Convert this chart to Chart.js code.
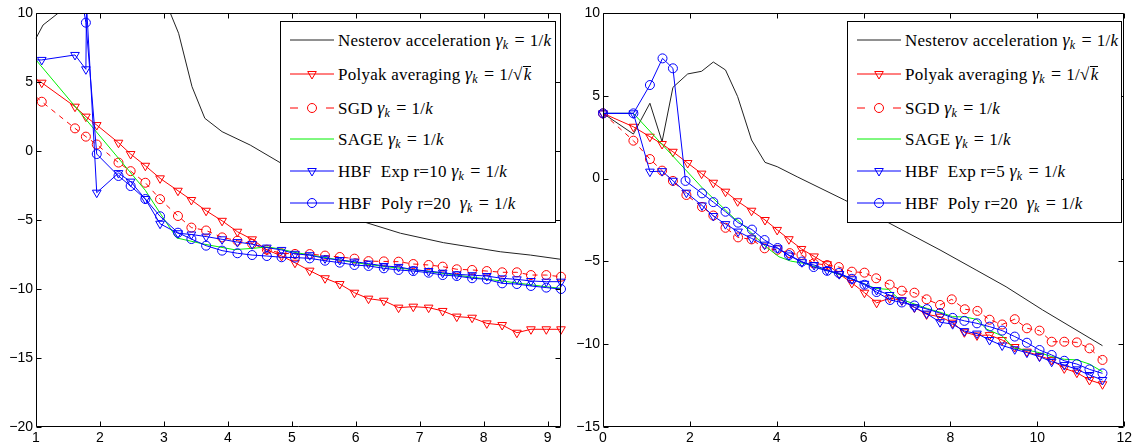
<!DOCTYPE html>
<html>
<head>
<meta charset="utf-8">
<script src="https://cdn.jsdelivr.net/npm/chart.js@4.4.1/dist/chart.umd.min.js"></script>
<style>
  html, body { margin: 0; padding: 0; background: #fff; overflow: hidden; }
  #wrap { position: relative; width: 1135px; height: 445px; }
  .pane { position: absolute; top: 0; }
  .legend { position: absolute; top: 21px; height: 200px; border: 1px solid #000; background: #fff; overflow: hidden;
            font-family: 'Liberation Serif', 'Times New Roman', serif; font-size: 17px; color: #000; }
  .row { position: absolute; left: 0; right: 0; height: 20px; }
  .row svg { position: absolute; left: 8px; top: 3px; }
  .row span.t { position: absolute; left: 57px; top: 0; line-height: 20px; white-space: nowrap; letter-spacing: 0.25px; }
  .m i { font-style: italic; }
  .g { font-size: 18px; }
  .m sub { font-size: 12px; font-style: italic; vertical-align: -3px; line-height: 0; }
  .eq { margin: 0 5px 0 6px; font-size: 18px; }
  .ov { border-top: 1px solid #000; padding-left: 1px; line-height: 16px; display: inline-block; }
</style>
</head>
<body>
<div id="wrap">
  <div class="pane" style="left:0"><canvas id="left" width="570" height="445"></canvas></div>
  <div class="pane" style="left:570px"><canvas id="right" width="565" height="445"></canvas></div>
  <div class="legend" id="legL" style="left:280px; width:274px"></div>
  <div class="legend" id="legR" style="left:847px; width:273px"></div>
</div>
<script>
// ---- axes ----
const xTicksL = [1, 2, 3, 4, 5, 6, 7, 8, 9];
const yTicksL = [-20, -15, -10, -5, 0, 5, 10];
const xTicksR = [0, 2, 4, 6, 8, 10, 12];
const yTicksR = [-15, -10, -5, 0, 5, 10];

// ---- left panel series, [x, y] ----
const nesterovL = [[1, 8.17], [1.11, 9.13], [1.35, 10.0], [1.6, 11.0], [2.2, 12.5], [2.8, 11.5], [3.1, 10.0],
  [3.23, 8.53], [3.44, 4.66], [3.64, 2.37], [3.91, 1.40], [4.35, 0.43], [4.82, -0.85], [6.17, -5.2],
  [6.70, -5.96], [7.37, -6.64], [8.26, -7.3], [8.73, -7.54], [9.21, -7.85]];
const polyakL = [[1, 5.22], [1.09, 4.95], [1.61, 3.21], [1.78, 2.49], [1.95, 1.88], [2.29, 0.60], [2.48, -0.22],
  [2.71, -1.07], [2.94, -1.98], [3.22, -2.88], [3.43, -3.55], [3.66, -4.33], [3.91, -5.06], [4.15, -5.85],
  [4.38, -6.40], [4.61, -7.17], [4.84, -7.6], [5.05, -8.1], [5.28, -8.67], [5.52, -9.22], [5.75, -9.64],
  [5.98, -10.27], [6.20, -10.70], [6.44, -10.85], [6.67, -11.35], [6.90, -11.28], [7.14, -11.35], [7.36, -11.59],
  [7.58, -12.0], [7.82, -12.08], [8.05, -12.49], [8.29, -12.61], [8.52, -13.17], [8.74, -12.92], [8.98, -12.92],
  [9.21, -12.92]];
const sgdL = [[1, 3.93], [1.09, 3.57], [1.61, 1.64], [1.78, 1.04], [1.95, 0.47], [2.29, -0.84], [2.48, -1.46],
  [2.71, -2.30], [2.94, -3.49], [3.22, -4.71], [3.43, -5.55], [3.66, -5.76], [3.91, -6.26], [4.15, -6.5],
  [4.38, -6.72], [4.61, -7.15], [4.84, -7.41], [5.05, -7.46], [5.28, -7.47], [5.52, -7.58], [5.75, -7.68],
  [5.98, -7.8], [6.20, -7.98], [6.44, -8.0], [6.67, -8.02], [6.90, -8.19], [7.14, -8.26], [7.36, -8.38],
  [7.58, -8.57], [7.82, -8.62], [8.05, -8.7], [8.29, -8.79], [8.52, -8.79], [8.74, -8.99], [8.98, -8.99],
  [9.21, -9.11]];
const sageL = [[1, 6.6], [1.92, 1.52], [2.71, -2.85], [2.94, -4.5], [3.2, -6.3], [3.64, -6.76], [4.1, -7.15],
  [4.4, -7.05], [4.61, -6.95], [4.82, -7.1], [5.05, -7.35], [5.5, -7.7], [6.0, -8.1], [6.5, -8.4], [7.0, -8.65],
  [7.5, -8.95], [8.0, -9.25], [8.5, -9.55], [9.0, -9.85], [9.21, -9.95]];
const hbfExpL = [[1, 6.6], [1.09, 6.6], [1.61, 6.96], [1.78, 5.92], [1.79, 10.6], [1.95, -3.02], [2.29, -1.6],
  [2.48, -2.22], [2.71, -3.48], [2.94, -5.27], [3.22, -5.96], [3.43, -6.05], [3.66, -6.2], [3.91, -6.4],
  [4.15, -6.6], [4.38, -6.75], [4.61, -7.0], [4.84, -7.17], [5.05, -7.45], [5.28, -7.55], [5.52, -7.78],
  [5.75, -7.9], [5.98, -8.02], [6.20, -8.16], [6.44, -8.33], [6.67, -8.4], [6.90, -8.6], [7.14, -8.7],
  [7.36, -8.82], [7.58, -8.94], [7.82, -9.0], [8.05, -9.06], [8.29, -9.23], [8.52, -9.3], [8.74, -9.42],
  [8.98, -9.47], [9.21, -9.47]];
const hbfPolyL = [[1, 14], [1.61, 14], [1.78, 9.3], [1.95, -0.22], [2.29, -1.81], [2.48, -2.54], [2.71, -3.48],
  [2.94, -4.73], [3.22, -5.92], [3.43, -6.38], [3.66, -6.86], [3.91, -7.22], [4.15, -7.41], [4.38, -7.54],
  [4.61, -7.61], [4.84, -7.70], [5.05, -7.72], [5.28, -7.78], [5.52, -7.95], [5.75, -8.09], [5.98, -8.26],
  [6.20, -8.33], [6.44, -8.5], [6.67, -8.62], [6.90, -8.70], [7.14, -8.82], [7.36, -8.99], [7.58, -9.06],
  [7.82, -9.22], [8.05, -9.30], [8.29, -9.59], [8.52, -9.64], [8.74, -9.78], [8.98, -9.90], [9.21, -10.0]];

// ---- right panel series, [x, y] ----
const nesterovR = [[0, 3.94], [0.70, 2.69], [1.08, 4.55], [1.36, 2.23], [1.61, 5.51], [1.95, 6.32], [2.27, 6.48],
  [2.54, 7.04], [2.82, 6.56], [3.10, 4.95], [3.42, 2.33], [3.73, 0.98], [4.01, 0.72], [4.47, 0.11], [5.56, -1.29],
  [6.57, -2.66], [7.76, -4.31], [8.59, -5.52], [9.28, -6.53], [10.12, -7.93], [11.5, -10.09]];
const polyakR = [[0, 3.94], [0.70, 3.13], [1.08, 2.53], [1.36, 2.09], [1.61, 1.62], [1.95, 0.94], [2.27, 0.30],
  [2.54, -0.25], [2.82, -0.79], [3.10, -1.37], [3.42, -1.94], [3.73, -2.5], [4.01, -3.1], [4.28, -3.66],
  [4.57, -4.25], [4.86, -4.7], [5.16, -5.17], [5.44, -5.76], [5.73, -6.3], [6.02, -6.89], [6.30, -7.5],
  [6.60, -7.22], [6.88, -7.35], [7.17, -7.78], [7.45, -8.2], [7.76, -8.34], [8.05, -8.7], [8.32, -9.28],
  [8.61, -9.47], [8.90, -9.45], [9.19, -9.75], [9.48, -10.17], [9.76, -10.45], [10.05, -10.71], [10.33, -10.95],
  [10.62, -11.46], [10.91, -11.72], [11.2, -12.16], [11.5, -12.42]];
const sgdR = [[0, 3.94], [0.70, 2.29], [1.08, 1.18], [1.36, 0.48], [1.61, -0.14], [1.92, -0.99], [2.28, -1.71],
  [2.54, -2.23], [2.82, -2.97], [3.11, -3.55], [3.42, -3.67], [3.72, -4.21], [4.01, -4.3], [4.30, -4.5],
  [4.57, -4.61], [4.85, -5.12], [5.16, -5.22], [5.43, -5.34], [5.73, -5.62], [6.02, -5.68], [6.29, -6.02],
  [6.60, -6.4], [6.88, -6.77], [7.17, -6.89], [7.45, -7.29], [7.76, -7.63], [8.03, -7.29], [8.33, -7.89],
  [8.62, -7.99], [8.90, -8.52], [9.19, -8.81], [9.48, -8.49], [9.76, -9.04], [10.05, -9.18], [10.33, -9.85],
  [10.62, -9.85], [10.91, -9.89], [11.2, -10.25], [11.5, -10.95]];
const sageR = [[0, 3.94], [0.70, 3.94], [2.30, -0.6], [3.02, -2.4], [3.10, -2.5], [3.75, -4.11], [4.05, -4.72],
  [4.32, -4.98], [4.63, -5.12], [5.16, -5.55], [5.73, -6.05], [6.27, -6.63], [6.57, -6.69], [6.80, -7.23],
  [7.17, -7.57], [7.47, -7.85], [7.8, -8.1], [8.05, -8.34], [8.33, -8.35], [8.6, -8.5], [8.84, -9.1],
  [9.19, -9.5], [9.47, -10.25], [9.76, -10.35], [10.05, -10.51], [10.33, -10.75], [10.62, -10.91],
  [10.91, -10.95], [11.2, -11.2], [11.5, -11.66]];
const hbfExpR = [[0, 3.94], [0.70, 3.94], [1.08, 0.42], [1.36, 0.45], [1.61, -0.13], [1.92, -0.85], [2.28, -1.62],
  [2.54, -2.26], [2.82, -2.75], [3.11, -3.2], [3.42, -3.61], [3.72, -3.99], [4.02, -4.21], [4.28, -4.64],
  [4.58, -5.05], [4.86, -5.22], [5.16, -5.52], [5.44, -5.77], [5.73, -6.08], [6.02, -6.35], [6.30, -6.73],
  [6.60, -7.03], [6.88, -7.35], [7.17, -7.77], [7.45, -8.15], [7.76, -8.67], [8.05, -8.79], [8.32, -9.21],
  [8.61, -9.36], [8.90, -9.75], [9.19, -10.08], [9.48, -10.31], [9.76, -10.51], [10.05, -10.75], [10.33, -11.06],
  [10.62, -11.26], [10.91, -11.52], [11.2, -11.86], [11.5, -12.16]];
const hbfPolyR = [[0, 3.94], [0.70, 3.94], [1.08, 5.65], [1.37, 7.26], [1.61, 6.66], [1.90, -0.14], [2.28, -0.89],
  [2.54, -1.42], [2.82, -2.0], [3.11, -2.66], [3.43, -3.08], [3.72, -3.71], [4.02, -4.19], [4.28, -4.62],
  [4.58, -5.01], [4.85, -5.34], [5.16, -5.57], [5.43, -5.7], [5.73, -6.05], [6.02, -6.41], [6.30, -6.85],
  [6.61, -7.33], [6.88, -7.48], [7.17, -7.66], [7.46, -7.88], [7.76, -8.12], [8.05, -8.41], [8.32, -8.59],
  [8.61, -8.74], [8.90, -8.94], [9.19, -9.18], [9.48, -9.54], [9.76, -9.91], [10.05, -10.35], [10.33, -10.65],
  [10.62, -11.0], [10.91, -11.2], [11.2, -11.52], [11.5, -11.76]];

const labelsL = ['Nesterov acceleration', 'Polyak averaging', 'SGD', 'SAGE', 'HBF&nbsp; Exp r=10', 'HBF&nbsp; Poly r=20&nbsp;'];
const labelsR = ['Nesterov acceleration', 'Polyak averaging', 'SGD', 'SAGE', 'HBF&nbsp; Exp r=5', 'HBF&nbsp; Poly r=20&nbsp;'];

const RED = '#ff0000', BLUE = '#0000ff', GREEN = '#00f000', BLACK = '#222222';
const styles = [
  { color: BLACK, marker: null, dash: [] },
  { color: RED, marker: 'tri', dash: [] },
  { color: RED, marker: 'circ', dash: [5, 5] },
  { color: GREEN, marker: null, dash: [] },
  { color: BLUE, marker: 'tri', dash: [] },
  { color: BLUE, marker: 'circ', dash: [] }
];

function makeDataset(points, i, startX) {
  const s = styles[i];
  return {
    data: points.map(([x, y]) => ({ x, y })),
    borderColor: s.color,
    borderWidth: 1,
    borderDash: s.dash,
    backgroundColor: 'rgba(0,0,0,0)',
    pointBackgroundColor: 'rgba(0,0,0,0)',
    pointBorderColor: s.color,
    pointBorderWidth: 1,
    pointStyle: s.marker === 'tri' ? 'triangle' : 'circle',
    pointRotation: s.marker === 'tri' ? 180 : 0,
    pointRadius: s.marker ? (c => (c.raw && c.raw.x <= startX) ? 0 : (s.marker === 'tri' ? 5 : 4.5)) : 0,
    pointHoverRadius: 0,
    tension: 0,
    order: 6 - i,
    clip: { left: 6, right: 6, top: 0, bottom: 6 }
  };
}

// matlab style box with inward ticks
const matlabAxes = {
  id: 'matlabAxes',
  afterDatasetsDraw(chart) {
    const { ctx, chartArea: a, scales } = chart;
    const L = Math.round(a.left) + 0.5, R = Math.round(a.right) - 0.5;
    const T = Math.round(a.top) + 0.5, B = Math.round(a.bottom) - 0.5;
    ctx.save();
    ctx.strokeStyle = '#000';
    ctx.lineWidth = 1;
    ctx.beginPath();
    ctx.rect(L, T, R - L, B - T);
    scales.x.ticks.forEach(t => {
      const p = Math.round(scales.x.getPixelForValue(t.value)) + 0.5;
      ctx.moveTo(p, B); ctx.lineTo(p, B - 5);
      ctx.moveTo(p, T); ctx.lineTo(p, T + 5);
    });
    scales.y.ticks.forEach(t => {
      const p = Math.round(scales.y.getPixelForValue(t.value)) + 0.5;
      ctx.moveTo(L, p); ctx.lineTo(L + 5, p);
      ctx.moveTo(R, p); ctx.lineTo(R - 5, p);
    });
    ctx.stroke();
    ctx.restore();
  }
};

function makeChart(id, series, xr, yr, xTicks, yTicks, yWidth, padRight, startX) {
  const tickFont = { family: "'Liberation Sans', Arial, sans-serif", size: 14 };
  return new Chart(document.getElementById(id), {
    type: 'line',
    data: { datasets: series.map((p, i) => makeDataset(p, i, startX)) },
    options: {
      responsive: false,
      devicePixelRatio: 1,
      animation: false,
      events: [],
      layout: { padding: { top: 13, right: padRight, left: 0, bottom: 0 } },
      plugins: { legend: { display: false }, tooltip: { enabled: false } },
      scales: {
        x: {
          type: 'linear', min: xr[0], max: xr[1],
          grid: { display: false, drawTicks: false }, border: { display: false },
          ticks: { color: '#000', font: tickFont, padding: 3, maxRotation: 0, autoSkip: false },
          afterBuildTicks: s => { s.ticks = xTicks.map(v => ({ value: v })); },
          afterFit: s => { s.height = 18; }
        },
        y: {
          type: 'linear', min: yr[0], max: yr[1],
          grid: { display: false, drawTicks: false }, border: { display: false },
          ticks: { color: '#000', font: tickFont, padding: 3, autoSkip: false,
                   callback: v => String(v).replace('-', '\u2212') },
          afterBuildTicks: s => { s.ticks = yTicks.map(v => ({ value: v })); },
          afterFit: s => { s.width = yWidth; }
        }
      }
    },
    plugins: [matlabAxes]
  });
}

makeChart('left', [nesterovL, polyakL, sgdL, sageL, hbfExpL, hbfPolyL], [1, 9.21], [-20, 10],
          xTicksL, yTicksL, 36, 9, 1);
makeChart('right', [nesterovR, polyakR, sgdR, sageR, hbfExpR, hbfPolyR], [0, 12], [-15, 10],
          xTicksR, yTicksR, 33, 8, -1);

// ---- legends ----
const rowCenters = [18.3, 51.7, 85.7, 117.3, 149, 180.7];
const gk = '<i class="g">&gamma;</i><sub>k</sub>';
function mathFor(i) {
  const rhs = i === 1 ? '1/&radic;<span class="ov"><i>k</i></span>' : '1/<i>k</i>';
  return `<span class="m">${gk}<span class="eq">=</span>${rhs}</span>`;
}
function sampleSvg(s) {
  let line;
  if (s.dash.length) {
    line = `<line x1="1" y1="7" x2="9" y2="7" stroke="${s.color}"/><line x1="37" y1="7" x2="45" y2="7" stroke="${s.color}"/>`;
  } else {
    line = `<line x1="1" y1="7" x2="45" y2="7" stroke="${s.color}"/>`;
  }
  let m = '';
  if (s.marker === 'tri') m = `<polygon points="18.7,4.5 27.3,4.5 23,12" fill="none" stroke="${s.color}"/>`;
  if (s.marker === 'circ') m = `<circle cx="23" cy="7" r="4.5" fill="none" stroke="${s.color}"/>`;
  return `<svg width="46" height="14">${line}${m}</svg>`;
}
function buildLegend(el, labels) {
  labels.forEach((lab, i) => {
    const row = document.createElement('div');
    row.className = 'row';
    row.style.top = (rowCenters[i] - 10) + 'px';
    row.innerHTML = sampleSvg(styles[i]) + `<span class="t">${lab} ${mathFor(i)}</span>`;
    el.appendChild(row);
  });
}
buildLegend(document.getElementById('legL'), labelsL);
buildLegend(document.getElementById('legR'), labelsR);
</script>
</body>
</html>
